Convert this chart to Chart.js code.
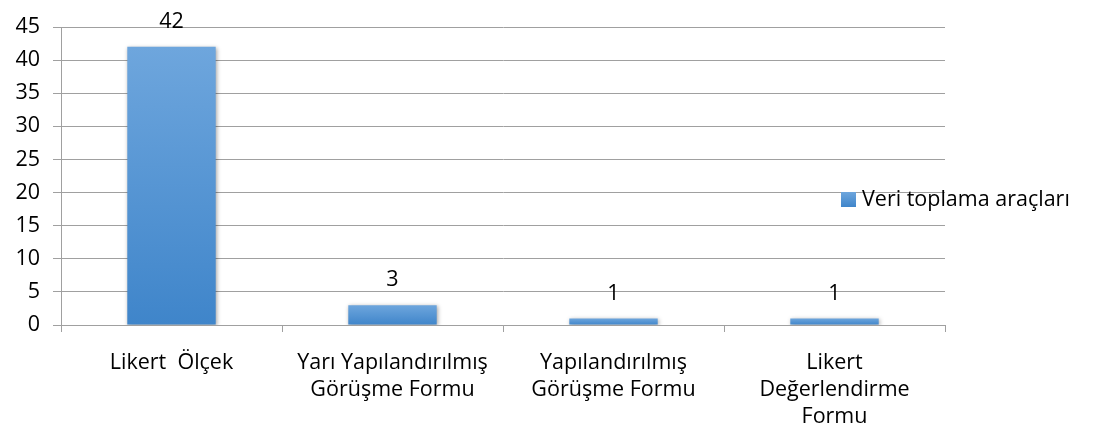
<!DOCTYPE html>
<html>
<head>
<meta charset="utf-8">
<script src="https://cdn.jsdelivr.net/npm/chart.js@4/dist/chart.umd.min.js"></script>
<style>
  html, body { margin: 0; padding: 0; background: #fff; }
  #wrap { width: 1097px; height: 437px; }
</style>
</head>
<body>
<div id="wrap"><canvas id="grafico"></canvas></div>
<script>
// datos
let categorias = [
    ['Likert  Ölçek'],
    ['Yarı Yapılandırılmış', 'Görüşme Formu'],
    ['Yapılandırılmış', 'Görüşme Formu'],
    ['Likert', 'Değerlendirme', 'Formu']
];
let valores = [42, 3, 1, 1];
let etiquetaSerie = 'Veri toplama araçları';
let marcasY = [0, 5, 10, 15, 20, 25, 30, 35, 40, 45];

const fuente = '"Open Sans", sans-serif';
const tam = 21.5;

// degradado por barra, claro arriba y oscuro abajo
function colorBarra(ctx) {
    let chart = ctx.chart;
    if (!chart.chartArea || ctx.parsed == null) return '#4a8fd6';
    let y = chart.scales.y;
    let arriba = y.getPixelForValue(ctx.parsed.y);
    let abajo = y.getPixelForValue(0);
    let g = chart.ctx.createLinearGradient(0, arriba, 0, abajo);
    g.addColorStop(0, '#6ea6dd');
    g.addColorStop(1, '#3f85ca');
    return g;
}

// numeros encima de las barras
const etiquetas = {
    id: 'etiquetas',
    afterDatasetsDraw(chart) {
        let c = chart.ctx;
        c.save();
        c.font = tam + 'px ' + fuente;
        c.fillStyle = '#000';
        c.textAlign = 'center';
        c.textBaseline = 'middle';
        chart.getDatasetMeta(0).data.forEach((barra, i) => {
            c.fillText(valores[i], barra.x, barra.y - 25);
        });
        c.restore();
    }
};

// sombra suave de las barras
const sombra = {
    id: 'sombra',
    beforeDatasetsDraw(chart) {
        let c = chart.ctx;
        c.save();
        c.shadowColor = 'rgba(0,0,0,0.35)';
        c.shadowBlur = 4;
        c.shadowOffsetX = 1;
        c.shadowOffsetY = 1;
    },
    afterDatasetsDraw(chart) {
        chart.ctx.restore();
    }
};

// leyenda a la derecha, encima de las lineas
const leyenda = {
    id: 'leyenda',
    afterDraw(chart) {
        let c = chart.ctx;
        c.save();
        let g = c.createLinearGradient(0, 192, 0, 207);
        g.addColorStop(0, '#6ea6dd');
        g.addColorStop(1, '#3f85ca');
        c.fillStyle = g;
        c.fillRect(841, 192, 15, 15);
        c.font = tam + 'px ' + fuente;
        c.fillStyle = '#000';
        c.textAlign = 'left';
        c.textBaseline = 'middle';
        c.fillText(etiquetaSerie, 862, 200);
        c.restore();
    }
};

let chart = new Chart(document.getElementById('grafico').getContext('2d'), {
    type: 'bar',
    data: {
        labels: categorias,
        datasets: [{
            label: etiquetaSerie,
            data: valores,
            backgroundColor: colorBarra,
            categoryPercentage: 0.4,
            barPercentage: 1
        }]
    },
    options: {
        responsive: true,
        maintainAspectRatio: false,
        animation: false,
        layout: { padding: { top: 27, right: 152, left: 0, bottom: 0 } },
        plugins: {
            legend: { display: false },
            tooltip: { enabled: false }
        },
        scales: {
            x: {
                afterFit(s) { s.height = 112; },
                grid: {
                    offset: true,
                    drawOnChartArea: false,
                    tickLength: 7,
                    color: '#a0a0a0'
                },
                border: { color: '#a0a0a0' },
                ticks: {
                    color: '#000',
                    font: { family: fuente, size: tam, lineHeight: 27 / tam },
                    padding: 17,
                    maxRotation: 0,
                    autoSkip: false
                }
            },
            y: {
                min: 0,
                max: 45,
                afterFit(s) { s.width = 61; },
                afterBuildTicks(s) { s.ticks = marcasY.map(v => ({ value: v })); },
                grid: { color: '#a0a0a0', tickLength: 8 },
                border: { color: '#a0a0a0' },
                ticks: {
                    color: '#000',
                    font: { family: fuente, size: tam },
                    padding: 13
                }
            }
        }
    },
    plugins: [sombra, etiquetas, leyenda]
});
</script>
</body>
</html>
